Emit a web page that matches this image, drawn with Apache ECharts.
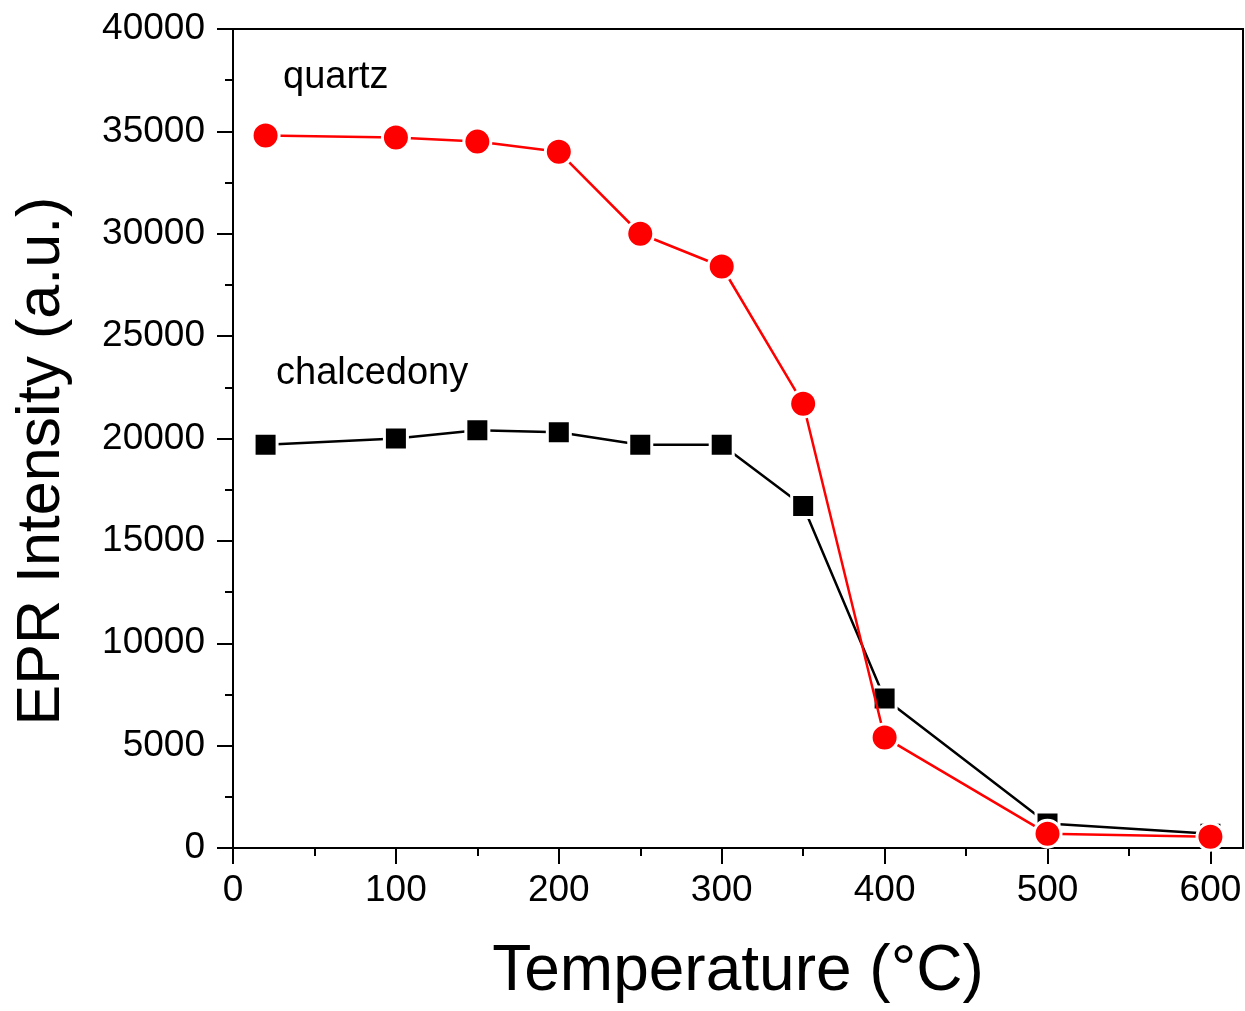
<!DOCTYPE html>
<html>
<head>
<meta charset="utf-8">
<script src="https://cdn.jsdelivr.net/npm/echarts@6/dist/echarts.min.js"></script>
<style>
  html, body { margin: 0; padding: 0; background: #fff; }
  #chart { width: 1245px; height: 1011px; }
</style>
</head>
<body>
<div id="chart"></div>
<script>
// temperature (°C)
var temps = [20, 100, 150, 200, 250, 300, 350, 400, 500, 600];
// EPR intensity
var quartz = [34800, 34700, 34500, 34000, 30000, 28400, 21700, 5400, 700, 550];
var chalcedony = [19700, 20000, 20400, 20300, 19700, 19700, 16700, 7300, 1200, 700];
var xMajor = [0, 100, 200, 300, 400, 500, 600];
var xMinor = [50, 150, 250, 350, 450, 550];

var font = 'Liberation Sans, Arial, sans-serif';

function pairs(xs, ys) {
  return xs.map(function (x, i) { return [x, ys[i]]; });
}

var myChart = echarts.init(document.getElementById('chart'));

var option = {
  backgroundColor: '#fff',
  animation: false,
  grid: {
    left: 233, right: 2, top: 29, bottom: 163,
    show: true, borderColor: '#000', borderWidth: 2, backgroundColor: 'transparent'
  },
  xAxis: [
    {
      type: 'value', min: 0, max: 620, interval: 100,
      name: 'Temperature (°C)', nameLocation: 'middle', nameGap: 92,
      nameTextStyle: { fontSize: 64, color: '#000', fontFamily: font },
      axisLine: { lineStyle: { color: '#000', width: 2 } },
      axisTick: { length: 16, lineStyle: { color: '#000', width: 2 }, customValues: xMajor },
      axisLabel: { fontSize: 37, color: '#000', fontFamily: font, margin: 24, customValues: xMajor },
      splitLine: { show: false }
    },
    {
      type: 'value', min: 0, max: 620, position: 'bottom',
      axisLine: { show: false },
      axisTick: { length: 8, lineStyle: { color: '#000', width: 2 }, customValues: xMinor },
      axisLabel: { show: false },
      splitLine: { show: false }
    }
  ],
  yAxis: {
    type: 'value', min: 0, max: 40000, interval: 5000,
    axisLine: { show: true, lineStyle: { color: '#000', width: 2 } },
    axisTick: { show: true, length: 16, lineStyle: { color: '#000', width: 2 } },
    minorTick: { show: true, splitNumber: 2, length: 8, lineStyle: { color: '#000', width: 2 } },
    axisLabel: {
      fontSize: 37, color: '#000', fontFamily: font, margin: 28,
      formatter: function (v) { return String(v); }
    },
    splitLine: { show: false }
  },
  graphic: [
    {
      type: 'text', x: 42, y: 461, rotation: Math.PI / 2,
      style: {
        text: 'EPR Intensity (a.u.)', fontSize: 61, fill: '#000', fontFamily: font,
        align: 'center', verticalAlign: 'middle'
      }
    },
    { type: 'text', left: 283, top: 59, style: { text: 'quartz', fontSize: 38, fill: '#000', fontFamily: font } },
    { type: 'text', left: 276, top: 355, style: { text: 'chalcedony', fontSize: 38, fill: '#000', fontFamily: font } }
  ],
  series: [
    {
      name: 'chalcedony', type: 'line', xAxisIndex: 0,
      data: pairs(temps, chalcedony),
      symbol: 'rect', symbolSize: 23,
      lineStyle: { color: '#000', width: 2.5 },
      itemStyle: { color: '#000', borderColor: '#fff', borderWidth: 3 },
      z: 2
    },
    {
      name: 'quartz', type: 'line', xAxisIndex: 0,
      data: pairs(temps, quartz),
      symbol: 'circle', symbolSize: 27,
      lineStyle: { color: '#f00', width: 2.5 },
      itemStyle: { color: '#f00', borderColor: '#fff', borderWidth: 3 },
      z: 3
    }
  ]
};

myChart.setOption(option);
window.addEventListener('resize', function () {
  myChart.resize();
});
</script>
</body>
</html>
